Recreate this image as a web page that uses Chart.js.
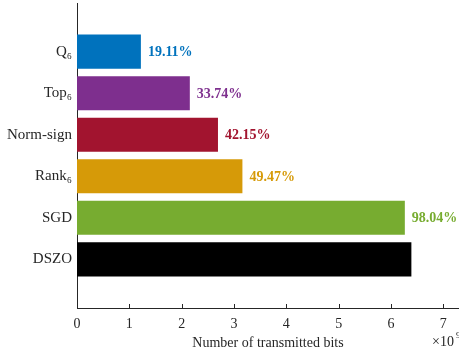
<!DOCTYPE html>
<html>
<head>
<meta charset="utf-8">
<script src="https://cdn.jsdelivr.net/npm/chart.js@4/dist/chart.umd.min.js"></script>
<style>
  html, body { margin: 0; padding: 0; background: #ffffff; }
  #wrap { width: 459px; height: 355px; }
</style>
</head>
<body>
<div id="wrap"><canvas id="c" width="459" height="355"></canvas></div>
<script>
// Methods, top to bottom
const methods = ['Q\u2086', 'Top\u2086', 'Norm-sign', 'Rank\u2086', 'SGD', 'DSZO'];
// Transmitted bits (in units of 10^9)
const bits = [1.221, 2.156, 2.694, 3.161, 6.265, 6.39];
// Share of the DSZO budget, printed next to each bar (none for DSZO itself)
const shareLabels = ['19.11%', '33.74%', '42.15%', '49.47%', '98.04%', ''];
// X axis tick values
const xTicks = [0, 1, 2, 3, 4, 5, 6, 7];

const colors = ['#0072BD', '#7E2F8E', '#A2142F', '#D69A08', '#77AC30', '#000000'];
const FONT = "'Liberation Serif', 'DejaVu Serif', serif";
const AXIS = '#262626';

const points = bits.map((v, i) => ({ x: v, y: i }));

// Inward tick marks on the x axis, value labels, axis title and exponent
const decorations = {
  id: 'decorations',
  afterDatasetsDraw(chart) {
    const ctx = chart.ctx;
    const xs = chart.scales.x;
    const area = chart.chartArea;
    ctx.save();
    ctx.strokeStyle = AXIS;
    ctx.lineWidth = 1;
    xTicks.forEach(v => {
      const px = Math.round(xs.getPixelForValue(v)) + 0.5;
      ctx.beginPath();
      ctx.moveTo(px, area.bottom);
      ctx.lineTo(px, area.bottom - 4);
      ctx.stroke();
    });

    const meta = chart.getDatasetMeta(0);
    ctx.font = 'bold 14px ' + FONT;
    ctx.textAlign = 'left';
    ctx.textBaseline = 'middle';
    meta.data.forEach((bar, i) => {
      if (!shareLabels[i]) return;
      ctx.fillStyle = colors[i];
      ctx.fillText(shareLabels[i], bar.x + 7, bar.y + 1);
    });

    ctx.fillStyle = AXIS;
    ctx.font = '14px ' + FONT;
    ctx.textAlign = 'center';
    ctx.fillText('Number of transmitted bits', (area.left + area.right) / 2, 343);

    ctx.textAlign = 'left';
    ctx.fillText('\u00d710', 432, 342);
    ctx.font = '9px ' + FONT;
    ctx.fillText('9', 456, 336);
    ctx.restore();
  }
};

new Chart(document.getElementById('c'), {
  type: 'bar',
  data: {
    datasets: [{
      data: points,
      backgroundColor: colors,
      borderWidth: 0,
      barPercentage: 0.82,
      categoryPercentage: 1.0
    }]
  },
  options: {
    indexAxis: 'y',
    responsive: false,
    animation: false,
    maintainAspectRatio: false,
    layout: { padding: { top: 3, right: 0, left: 0, bottom: 0 } },
    plugins: {
      legend: { display: false },
      tooltip: { enabled: false }
    },
    scales: {
      x: {
        type: 'linear',
        min: 0,
        max: 7.3,
        afterFit(scale) { scale.height = 47; },
        afterBuildTicks(scale) { scale.ticks = xTicks.map(v => ({ value: v })); },
        grid: { display: false, drawTicks: false },
        border: { display: true, color: AXIS, width: 1 },
        ticks: {
          color: AXIS,
          padding: 8,
          font: { family: FONT, size: 14 },
          maxRotation: 0,
          autoSkip: false
        }
      },
      y: {
        type: 'linear',
        reverse: true,
        offset: false,
        min: -1.17,
        max: 6.17,
        afterFit(scale) { scale.width = 77; scale.paddingTop = 0; scale.paddingBottom = 0; },
        afterBuildTicks(scale) { scale.ticks = methods.map((m, i) => ({ value: i })); },
        grid: { display: false, drawTicks: false },
        border: { display: true, color: AXIS, width: 1 },
        ticks: {
          color: AXIS,
          padding: 5,
          font: { family: FONT, size: 15 },
          autoSkip: false,
          callback: (v) => methods[v]
        }
      }
    }
  },
  plugins: [decorations]
});
</script>
</body>
</html>
